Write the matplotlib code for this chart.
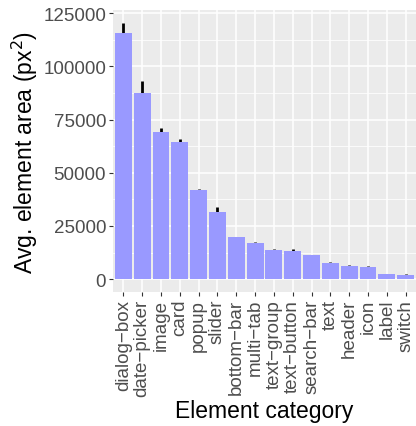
import matplotlib
matplotlib.use("Agg")
import matplotlib.pyplot as plt
from matplotlib.ticker import MultipleLocator

plt.rcParams['font.family'] = ['Liberation Sans', 'DejaVu Sans']

categories = ["dialog-box", "date-picker", "image", "card", "popup", "slider",
              "bottom-bar", "multi-tab", "text-group", "text-button", "search-bar",
              "text", "header", "icon", "label", "switch"]
mean_area = [115500, 87600, 69200, 64300, 41800, 31400,
             19700, 17200, 13800, 13100, 11300,
             7800, 6400, 5800, 2300, 2200]
err_area = [4800, 5600, 2000, 1400, 500, 2500,
            300, 300, 200, 1200, 300,
            300, 400, 200, 300, 300]
y_ticks = [0, 25000, 50000, 75000, 100000, 125000]

W, H = 416, 427
fig = plt.figure(figsize=(W / 100, H / 100), dpi=100)
left, right, top, bottom = 113, 416, 11.3, 293
ax = fig.add_axes([left / W, 1 - bottom / H, (right - left) / W, (bottom - top) / H])

ax.set_facecolor("#EBEBEB")
for s in ax.spines.values():
    s.set_visible(False)

x = list(range(1, len(categories) + 1))
# error bars sit under the bars, so only the upper half shows
ax.vlines(x, [m - e for m, e in zip(mean_area, err_area)],
          [m + e for m, e in zip(mean_area, err_area)],
          color="black", linewidth=2, zorder=2)
ax.bar(x, mean_area, width=0.9, color="#9999FF", zorder=3)

ax.set_xlim(0.45, 16.55)
ax.set_ylim(-6000, 126300)

ax.set_yticks(y_ticks)
ax.set_yticklabels([str(v) for v in y_ticks])
ax.yaxis.set_minor_locator(MultipleLocator(12500))
ax.set_xticks(x)
ax.set_xticklabels([c.replace("-", "\u2212") for c in categories],
                   rotation=90, ha="center", va="top")

ax.grid(which="major", color="white", linewidth=1.1, zorder=0)
ax.grid(which="minor", axis="y", color="white", linewidth=0.55, zorder=0)
ax.set_axisbelow(True)

ax.tick_params(axis="both", which="major", length=3, width=0.8, color="#333333",
               labelsize=13.5, labelcolor="#4D4D4D", pad=2)
ax.tick_params(axis="both", which="minor", length=0)

ax.set_ylabel("Avg. element area (px$^2$)", fontsize=16.5, color="black", va="center")
ax.yaxis.set_label_coords((25 - left) / (right - left), 0.5)
ax.set_xlabel("Element category", fontsize=16.5, color="black", va="center")
ax.xaxis.set_label_coords(0.5, -(412 - bottom) / (bottom - top))

fig.savefig("out.png", dpi=100)
